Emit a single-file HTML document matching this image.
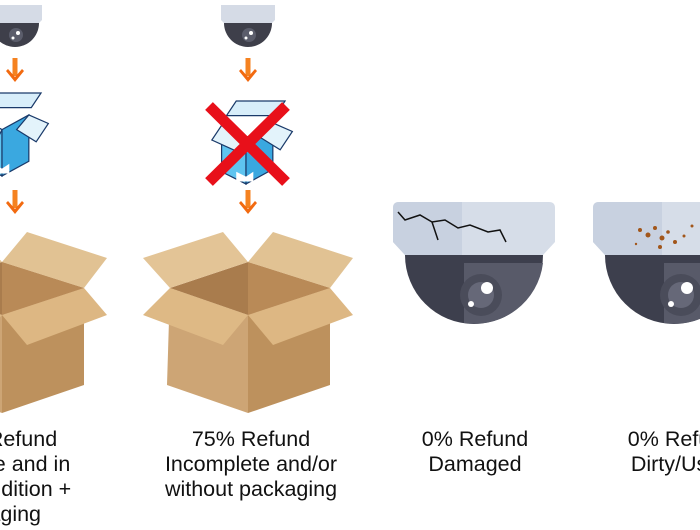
<!DOCTYPE html>
<html><head><meta charset="utf-8"><style>
html,body{margin:0;padding:0;background:#fff;width:700px;height:530px;overflow:hidden}
text{font-family:"Liberation Sans",Arial,sans-serif;font-size:21.5px;fill:#111;text-anchor:middle}
</style></head><body>
<svg width="700" height="530" viewBox="0 0 700 530" xmlns="http://www.w3.org/2000/svg">
<defs>
<g id="smallcam">
  <path d="M-27,5 H27 V20 L23,24 H-23 L-27,20 Z" fill="#d5dbe6"/>
  <path d="M-24,23 H24 A24,24 0 0 1 -24,23 Z" fill="#3e3f4a"/>
  <circle cx="1" cy="35" r="7" fill="#5b5d6b"/>
  <circle cx="3" cy="33" r="2" fill="#fff"/><circle cx="-2" cy="38" r="1.5" fill="#fff"/>
</g>
<g id="arrow">
  <rect x="-2.5" y="0" width="5" height="18" fill="#f58220"/>
  <path d="M-9,13 L0,24 L9,13 L7,11 L0,19 L-7,11 Z" fill="#f26a10"/>
</g>
<g id="cbox">
  <path d="M170,288 L248,315 L248,413 L167,385 Z" fill="#cda575"/>
  <path d="M248,315 L330,288 L330,385 L248,413 Z" fill="#bd915d"/>
  <path d="M170,288 L248,262 L330,288 L248,315 Z" fill="#a97c4d"/>
  <path d="M248,262 L330,288 L248,315 Z" fill="#b98a57"/>
  <path d="M143,258 L223,232 L248,262 L170,288 Z" fill="#e3c496"/>
  <path d="M248,262 L273,232 L353,258 L330,288 Z" fill="#e1c293"/>
  <path d="M170,288 L248,315 L223,345 L143,315 Z" fill="#deb985"/>
  <path d="M248,315 L330,288 L353,315 L273,345 Z" fill="#ddb783"/>
</g>
<g id="bluebox">
  <path d="M-20,20 L0,30 L0,68 L-20,58 Z" fill="#5ec4f0" stroke="#1a3a6a" stroke-width="1"/>
  <path d="M0,30 L22,18 L22,56 L0,68 Z" fill="#3aa8e0" stroke="#1a3a6a" stroke-width="1"/>
  <path d="M-8,0 L32,0 L24,12 L-16,12 Z" fill="#d8eefa" stroke="#1a3a6a" stroke-width="1"/>
  <path d="M22,18 L38,25 L28,40 L12,30 Z" fill="#e3f3fb" stroke="#1a3a6a" stroke-width="1"/>
  <path d="M-20,20 L0,30 L-6,42 L-28,32 Z" fill="#e3f3fb" stroke="#1a3a6a" stroke-width="1"/>
  <path d="M-8,66 L-8,58 L0,62 L6,58 L6,66 Z" fill="#fff"/>
</g>
<g id="bigcam">
  <path d="M-81,8 Q-81,2 -75,2 H75 Q81,2 81,8 V42 L69,55 H-69 L-81,42 Z" fill="#d6dde8"/>
  <path d="M-81,8 Q-81,2 -75,2 H-12 V55 H-69 L-81,42 Z" fill="#c8d1e0"/>
  <path d="M-69,55 H69 A69,69 0 0 1 -69,55 Z" fill="#3d3f4d"/>
  <path d="M-10,63 H69 A69,69 0 0 1 -10,123 Z" fill="#585a69"/>
  <circle cx="7" cy="95" r="21" fill="#4a4c5a"/>
  <circle cx="7" cy="95" r="13" fill="#666878"/>
  <circle cx="13" cy="88" r="6" fill="#fff"/>
  <circle cx="-3" cy="104" r="3" fill="#fff"/>
</g>
</defs>

<use href="#smallcam" x="15" y="0"/>
<use href="#smallcam" x="248" y="0"/>
<use href="#arrow" x="15" y="58"/>
<use href="#arrow" x="248" y="58"/>
<use href="#arrow" x="15" y="190"/>
<use href="#arrow" x="248" y="190"/>

<g transform="translate(2,93) scale(1.22)"><use href="#bluebox"/></g>
<g transform="translate(246,101) scale(1.22)"><use href="#bluebox"/></g>
<path d="M209,106 L286,182 M286,106 L209,182" stroke="#e8101a" stroke-width="11"/>

<use href="#cbox" x="-246" y="0"/>
<use href="#cbox" x="0" y="0"/>

<use href="#bigcam" x="474" y="200"/>
<path d="M398,212 L405,220 L420,215 L432,222 L445,220 L458,228 L470,225 L488,232 L500,230 L506,242 M432,222 L438,240" stroke="#111" stroke-width="1.5" fill="none"/>
<use href="#bigcam" x="674" y="200"/>
<g fill="#a2561a">
<circle cx="640" cy="230" r="2"/><circle cx="648" cy="235" r="2.5"/><circle cx="655" cy="228" r="2"/><circle cx="662" cy="238" r="2.5"/><circle cx="668" cy="232" r="1.8"/><circle cx="675" cy="242" r="2"/><circle cx="684" cy="236" r="1.5"/><circle cx="692" cy="226" r="1.5"/><circle cx="636" cy="244" r="1.2"/><circle cx="660" cy="247" r="2"/>
</g>

<text x="-8" y="446">100% Refund</text>
<text x="-8" y="471">Complete and in</text>
<text x="-8" y="496">good condition +</text>
<text x="-8" y="521">packaging</text>
<text x="251" y="446">75% Refund</text>
<text x="251" y="471">Incomplete and/or</text>
<text x="251" y="496">without packaging</text>
<text x="475" y="446">0% Refund</text>
<text x="475" y="471">Damaged</text>
<text x="681" y="446">0% Refund</text>
<text x="681" y="471">Dirty/Used</text>
</svg>
</body></html>
